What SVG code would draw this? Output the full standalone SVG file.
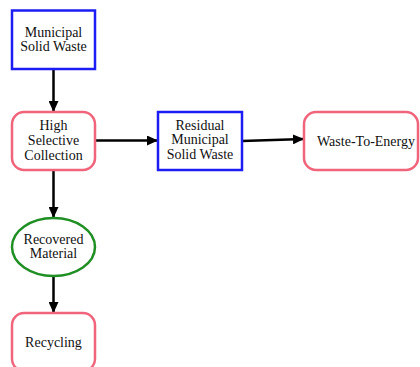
<svg xmlns="http://www.w3.org/2000/svg" width="420" height="367" viewBox="0 0 420 367">
<defs>
<marker id="arr" markerUnits="userSpaceOnUse" markerWidth="11" markerHeight="10" refX="11" refY="5" orient="auto">
<path d="M0,0 L11,5 L0,10 z" fill="#000"/>
</marker>
<style>
.t{font-family:"Liberation Serif","Times New Roman",serif;font-size:14px;fill:#111;text-anchor:middle}
.blue{fill:#fff;stroke:#1c1cf5;stroke-width:2.5}
.red{fill:#fff;stroke:#f0647c;stroke-width:2.5}
.green{fill:#fff;stroke:#1f8f24;stroke-width:2.5}
.e{fill:none;stroke:#000;stroke-width:2.5;marker-end:url(#arr)}
</style>
</defs>
<rect width="420" height="367" fill="#fff"/>
<g id="connectors">
<line class="e" x1="53.5" y1="69" x2="53.5" y2="112"/>
<line class="e" x1="95" y1="140.5" x2="158" y2="140.5"/>
<line class="e" x1="242" y1="141" x2="304" y2="139"/>
<line class="e" x1="53.5" y1="170" x2="53.5" y2="218"/>
<line class="e" x1="53.5" y1="276" x2="53.5" y2="313"/>
</g>
<g id="msw">
<rect class="blue" x="12" y="10.5" width="83" height="58.5"/>
<text class="t" x="53.5" y="36.5">Municipal</text>
<text class="t" x="53.5" y="51">Solid Waste</text>
</g>
<g id="hsc">
<rect class="red" x="12" y="112" width="83" height="58" rx="12" ry="12"/>
<text class="t" x="53.5" y="130">High</text>
<text class="t" x="53.5" y="145">Selective</text>
<text class="t" x="53.5" y="159.5">Collection</text>
</g>
<g id="rmsw">
<rect class="blue" x="158" y="112" width="84" height="58"/>
<text class="t" x="200" y="129.5">Residual</text>
<text class="t" x="200" y="144">Municipal</text>
<text class="t" x="200" y="158.5">Solid Waste</text>
</g>
<g id="wte">
<rect class="red" x="304" y="112" width="114" height="58" rx="12" ry="12"/>
<text class="t" x="366" y="145.5">Waste-To-Energy</text>
</g>
<g id="recovered">
<ellipse class="green" cx="53.5" cy="247" rx="41.5" ry="29"/>
<text class="t" x="53.5" y="243.5">Recovered</text>
<text class="t" x="53.5" y="258">Material</text>
</g>
<g id="recycling">
<rect class="red" x="12" y="313" width="83" height="58" rx="12" ry="12"/>
<text class="t" x="53.5" y="346.5">Recycling</text>
</g>
</svg>
